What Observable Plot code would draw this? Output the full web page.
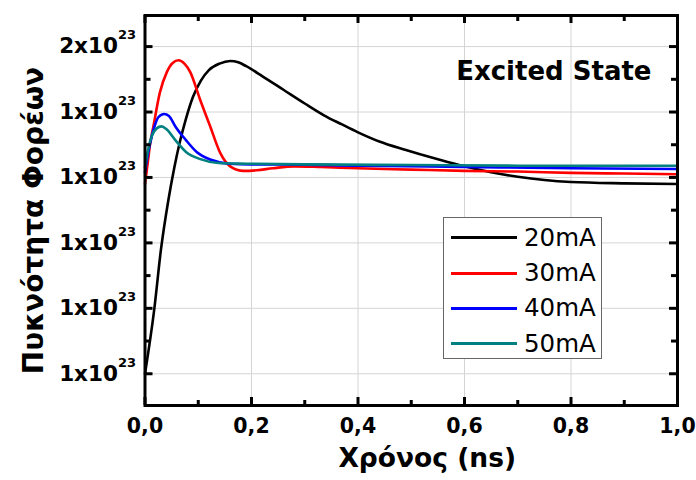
<!DOCTYPE html>
<html>
<head>
<meta charset="utf-8">
<script src="https://cdn.jsdelivr.net/npm/d3@7"></script>
<script src="https://cdn.jsdelivr.net/npm/@observablehq/plot@0.6"></script>
<style>
  body { margin: 0; background: #fff; }
  #wrap { position: relative; width: 696px; height: 480px; }
  .legend { position: absolute; left: 443px; top: 217px; width: 159px; height: 142px;
            border: 1px solid #666; background: #fff; box-sizing: border-box;
            font-family: "DejaVu Sans", sans-serif; font-size: 24.5px; color: #000; }
  .row { position: absolute; left: 0; height: 30px; }
  .sw { position: absolute; left: 7px; width: 66px; height: 3px; }
  .lab { position: absolute; left: 80px; line-height: 30px; white-space: nowrap; }
</style>
</head>
<body>
<div id="wrap"></div>
<script>
// ---- data (carrier density in units of 1e23, time in ns) ----
const series = ["20mA", "30mA", "40mA", "50mA"];
const colors = ["#000000", "#ff0000", "#0000ff", "#008080"];

const t20 = [0, 0.017, 0.03, 0.044, 0.055, 0.066, 0.077, 0.09, 0.105, 0.12, 0.14, 0.16, 0.175, 0.19, 0.22, 0.26, 0.3, 0.336, 0.37, 0.4, 0.44, 0.49, 0.54, 0.59, 0.65, 0.7, 0.75, 0.8, 0.9, 1.0];
const n20 = [1.0, 1.096, 1.19, 1.266, 1.315, 1.356, 1.39, 1.423, 1.448, 1.464, 1.474, 1.478, 1.476, 1.47, 1.455, 1.434, 1.413, 1.395, 1.381, 1.369, 1.355, 1.342, 1.33, 1.319, 1.308, 1.301, 1.296, 1.293, 1.291, 1.29];

const t30 = [0, 0.006, 0.009, 0.016, 0.028, 0.041, 0.052, 0.063, 0.074, 0.085, 0.103, 0.122, 0.141, 0.16, 0.185, 0.21, 0.24, 0.28, 0.33, 0.4, 0.5, 0.6, 0.7, 0.8, 0.9, 1.0];
const n30 = [1.29, 1.328, 1.348, 1.379, 1.43, 1.461, 1.475, 1.479, 1.474, 1.461, 1.42, 1.379, 1.338, 1.317, 1.31, 1.311, 1.314, 1.317, 1.316, 1.314, 1.312, 1.31, 1.309, 1.307, 1.306, 1.305];

const t40 = [0, 0.006, 0.013, 0.019, 0.025, 0.036, 0.045, 0.057, 0.077, 0.097, 0.124, 0.158, 0.2, 0.26, 0.4, 0.6, 0.8, 1.0];
const n40 = [1.308, 1.338, 1.364, 1.381, 1.392, 1.397, 1.394, 1.378, 1.357, 1.339, 1.327, 1.321, 1.32, 1.32, 1.318, 1.316, 1.314, 1.313];

const t50 = [0, 0.006, 0.013, 0.022, 0.031, 0.04, 0.057, 0.077, 0.104, 0.138, 0.191, 0.3, 0.5, 0.7, 1.0];
const n50 = [1.315, 1.343, 1.364, 1.375, 1.378, 1.374, 1.357, 1.339, 1.328, 1.322, 1.321, 1.32, 1.319, 1.318, 1.318];

const xTickValues = [0, 0.2, 0.4, 0.6, 0.8, 1.0];
const xTickLabels = ["0,0", "0,2", "0,4", "0,6", "0,8", "1,0"];
const xMinorTicks = [0.1, 0.3, 0.5, 0.7, 0.9];
const yTickValues = [1.0, 1.1, 1.2, 1.3, 1.4, 1.5];
const yTickMantissa = ["1", "1", "1", "1", "1", "2"];
const yTickExponent = "23";
const yMinorTicks = [1.05, 1.15, 1.25, 1.35, 1.45];

const xTitle = "Χρόνος (ns)";
const yTitle = "Πυκνότητα Φορέων";
const annotation = "Excited State";

// ---- build table ----
const cols = [[t20, n20], [t30, n30], [t40, n40], [t50, n50]];
const data = [];
cols.forEach(([ts, ns], k) => ts.forEach((t, i) => data.push({series: series[k], t, n: ns[i]})));

const W = 696, H = 480, mL = 144.5, mR = 19, mT = 15, mB = 75;
const plotW = W - mL - mR, plotH = H - mT - mB;
const xLab = new Map(xTickValues.map((v, i) => [v, xTickLabels[i]]));
const yLab = new Map(yTickValues.map((v, i) => [v, yTickMantissa[i] + "x10^" + yTickExponent]));
const tick = {stroke: "#000", strokeWidth: 3};

const svg = Plot.plot({
  width: W, height: H,
  marginLeft: mL, marginRight: mR, marginTop: mT, marginBottom: mB,
  style: {fontFamily: "DejaVu Sans", background: "#fff", color: "#000", overflow: "visible"},
  x: {domain: [0, 1]},
  y: {domain: [0.9515, 1.5475]},
  color: {domain: series, range: colors},
  marks: [
    Plot.gridX(xTickValues.slice(1, -1), {stroke: "#d4d4d4", strokeOpacity: 1, strokeWidth: 1}),
    Plot.gridY(yTickValues, {stroke: "#d4d4d4", strokeOpacity: 1, strokeWidth: 1}),
    Plot.line(data, {x: "t", y: "n", z: "series", stroke: "series", strokeWidth: 2.6, curve: "monotone-x"}),
    // inward ticks: left / right
    Plot.tickY(yTickValues, {y: d => d, insetRight: plotW - 8, ...tick}),
    Plot.tickY(yMinorTicks, {y: d => d, insetRight: plotW - 6, ...tick}),
    Plot.tickY(yTickValues, {y: d => d, insetLeft: plotW - 8, ...tick}),
    Plot.tickY(yMinorTicks, {y: d => d, insetLeft: plotW - 6, ...tick}),
    // inward ticks: bottom / top
    Plot.tickX(xTickValues, {x: d => d, insetTop: plotH - 8, ...tick}),
    Plot.tickX(xMinorTicks, {x: d => d, insetTop: plotH - 5, ...tick}),
    Plot.tickX(xTickValues, {x: d => d, insetBottom: plotH - 8, ...tick}),
    Plot.tickX(xMinorTicks, {x: d => d, insetBottom: plotH - 6, ...tick}),
    Plot.frame({stroke: "#000", strokeWidth: 3}),
    Plot.axisX(xTickValues, {tickSize: 0, tickPadding: 13, tickFormat: d => xLab.get(d), fontSize: 20.5, fontWeight: "bold", label: null}),
    Plot.axisY(yTickValues, {tickSize: 0, tickPadding: 9, tickFormat: d => yLab.get(d), fontSize: 21.5, fontWeight: "bold", label: null}),
    Plot.text([xTitle], {frameAnchor: "bottom", textAnchor: "middle", dx: 16, dy: 61, lineAnchor: "bottom", fontSize: 26.5, fontWeight: "bold"}),
    Plot.text([yTitle], {frameAnchor: "left", textAnchor: "middle", rotate: -90, dx: -102, dy: 10, lineAnchor: "bottom", fontSize: 28, fontWeight: "bold"}),
    Plot.text([annotation], {frameAnchor: "top-right", textAnchor: "end", dx: -26, dy: 64, lineAnchor: "bottom", fontSize: 26, fontWeight: "bold"})
  ]
});

// superscript exponents on y tick labels
svg.querySelectorAll('[aria-label="y-axis tick label"] text').forEach(el => {
  const s = el.textContent;
  if (!s.includes("^")) return;
  const [base, exp] = s.split("^");
  el.textContent = base;
  const ts = document.createElementNS("http://www.w3.org/2000/svg", "tspan");
  ts.setAttribute("dy", "-14");
  ts.setAttribute("font-size", "13");
  ts.textContent = exp;
  el.appendChild(ts);
});

const wrap = document.getElementById("wrap");
wrap.appendChild(svg);

// legend (inside plot area, drawn over grid)
const legend = document.createElement("div");
legend.className = "legend";
series.forEach((s, i) => {
  const row = document.createElement("div");
  row.className = "row";
  row.style.top = (4.7 + i * 35.3) + "px";
  row.style.width = "100%";
  const sw = document.createElement("div");
  sw.className = "sw";
  sw.style.background = colors[i];
  sw.style.top = "13.5px";
  const lab = document.createElement("div");
  lab.className = "lab";
  lab.textContent = s;
  lab.style.top = "0px";
  row.appendChild(sw);
  row.appendChild(lab);
  legend.appendChild(row);
});
wrap.appendChild(legend);
</script>
</body>
</html>
